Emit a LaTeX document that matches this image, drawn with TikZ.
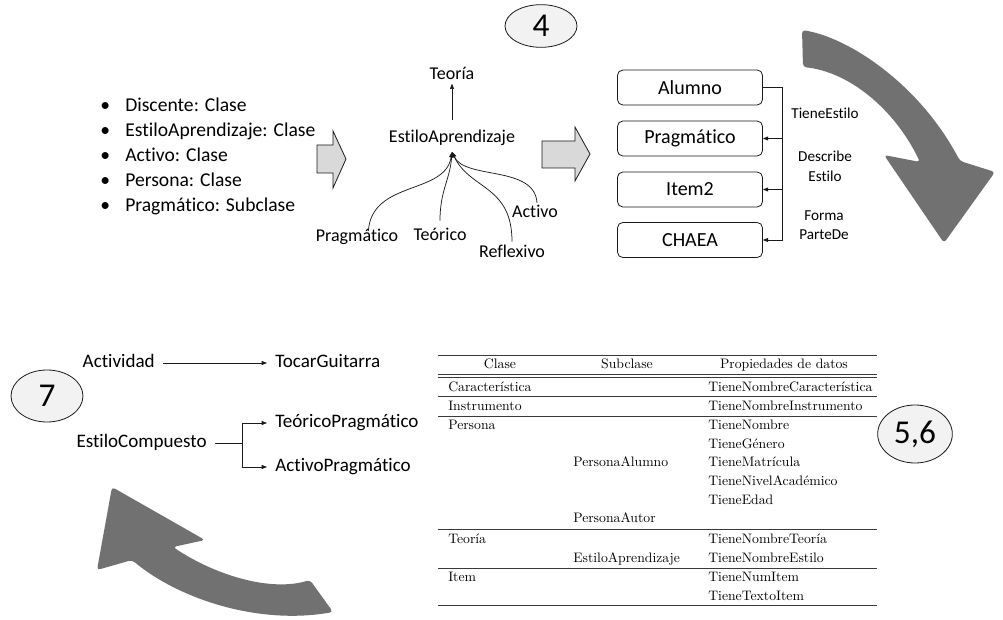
\documentclass[tikz,border=0pt]{standalone}
\usepackage{fontspec}
\newfontfamily\carl{Carlito}[Ligatures=NoCommon]
\usetikzlibrary{arrows.meta,shapes.geometric,calc}
\definecolor{arrowgray}{HTML}{717171}
\definecolor{blockgray}{HTML}{D9D9D9}
\definecolor{bubble}{HTML}{F2F2F2}
\definecolor{ink}{HTML}{1A1A1A}
\definecolor{rule}{HTML}{3A3A3A}
\begin{document}
\begin{tikzpicture}[x=0.75pt,y=-0.75pt,
  listtxt/.style={font=\carl\fontsize{14.7}{17}\selectfont,inner sep=0pt,text height=0.66em,text depth=0pt,anchor=west},
  treetxt/.style={font=\carl\fontsize{13.5}{16}\selectfont,inner sep=0pt,text height=0.66em,text depth=0pt},
  boxtxt/.style={draw=ink,line width=0.6pt,rounded corners=4pt,minimum width=108.75pt,minimum height=26.25pt,
    font=\carl\fontsize{15}{18}\selectfont,inner sep=0pt},
  reltxt/.style={font=\carl\fontsize{11.4}{14.6}\selectfont,inner sep=0pt,align=center},
  lowtxt/.style={font=\carl\fontsize{14.3}{17}\selectfont,inner sep=0pt,text height=0.66em,text depth=0pt},
  bubbletxt/.style={draw=ink,fill=bubble,line width=0.6pt,ellipse,inner sep=0pt,font=\carl\fontsize{25}{28}\selectfont},
  tabtxt/.style={font=\fontsize{10.3}{12}\selectfont,inner sep=0pt,text height=0.7em,text depth=0pt},
  conn/.style={draw=ink,line width=0.55pt},
  tip/.style={-{Triangle[length=4pt,width=3pt]}},
  blockarrow/.style={draw=ink,fill=blockgray,line width=0.6pt},
  bigarrow/.style={fill=arrowgray,rounded corners=2.5pt},
  tabrule/.style={draw=rule,line width=0.7pt}
]
\useasboundingbox (0,0) rectangle (1003,620);

% ---------- list of classes ----------
\node[listtxt] (l1) at (100,107) {\makebox[18.75pt][l]{•}Discente: Clase};
\node[listtxt] (l2) at (100,132) {\makebox[18.75pt][l]{•}EstiloAprendizaje: Clase};
\node[listtxt] (l3) at (100,157) {\makebox[18.75pt][l]{•}Activo: Clase};
\node[listtxt] (l4) at (100,182) {\makebox[18.75pt][l]{•}Persona: Clase};
\node[listtxt] (l5) at (100,207) {\makebox[18.75pt][l]{•}Pragmático: Subclase};

% ---------- block arrows ----------
\draw[blockarrow] (317,145) -- (333,145) -- (333,131) -- (346,159) -- (333,188) -- (333,173) -- (317,173) -- cycle;
\draw[blockarrow] (542,141) -- (575,141) -- (575,127) -- (590,154) -- (575,181) -- (575,168) -- (542,168) -- cycle;

% ---------- hierarchy of learning styles ----------
\node[treetxt] (teoria) at (452,75) {Teoría};
\node[treetxt] (estilo) at (452,138) {EstiloAprendizaje};
\node[treetxt] (prag) at (357,237) {Pragmático};
\node[treetxt] (teor) at (440,236) {Teórico};
\node[treetxt] (refl) at (512,253) {Reflexivo};
\node[treetxt] (act) at (535,213) {Activo};
\coordinate (join) at (452,152);
\draw[conn,tip] ([yshift=10pt]estilo.north) -- ([yshift=-3pt]teoria.south);
\draw[conn,tip] ([xshift=8.5pt,yshift=1pt]prag.north) .. controls (372,180) and (445,195) .. (join);
\draw[conn,tip] ([yshift=8pt]teor.north) .. controls (440,190) and (450,180) .. (join);
\draw[conn,tip] ([yshift=5pt]refl.north) .. controls (512,185) and (470,190) .. (join);
\draw[conn,tip] ([xshift=1.5pt,yshift=4pt]act.north) .. controls (535,165) and (465,180) .. (join);

% ---------- step 4 ----------
\node[bubbletxt,minimum width=54pt,minimum height=32pt] (b4) at (541,26) {4};

\node[boxtxt] (alumno) at (690,87.5) {Alumno};
\node[boxtxt] (pragm) at (690,138.5) {Pragmático};
\node[boxtxt] (item) at (690,189.5) {Item2};
\node[boxtxt] (chaea) at (690,240) {CHAEA};
\draw[conn,tip] (alumno.east) -- ++(19,0) coordinate (bus) |- (chaea.east);
\draw[conn,tip] (bus |- pragm.east) -- (pragm.east);
\draw[conn,tip] (bus |- item.east) -- (item.east);
\node[reltxt] (r1) at (825,113) {TieneEstilo};
\node[reltxt] (r2) at (825,166.5) {Describe\\Estilo};
\node[reltxt] (r3) at (824,225) {Forma\\ParteDe};

% ---------- curved arrows ----------
\fill[bigarrow] (802,30) .. controls (850,38) and (920,85) .. (960,161) -- (995,172) -- (944,243)
  -- (884,155) -- (920,162) .. controls (895,110) and (850,72) .. (803,67) -- cycle;
\fill[bigarrow] (333,612) .. controls (260,625) and (180,600) .. (132,560) -- (97,570) -- (112,487)
  -- (205,540) -- (173,547) .. controls (215,575) and (270,592) .. (310,580) -- cycle;

% ---------- step 7 ----------
\node[bubbletxt,minimum width=54pt,minimum height=39pt] (b7) at (47,396) {7};
\node[lowtxt,anchor=east] (activ) at (155,363) {Actividad};
\node[lowtxt,anchor=west] (toca) at (275,363) {TocarGuitarra};
\draw[conn,tip,shorten <=6pt,shorten >=6pt] (activ.east) -- (toca.west);
\node[lowtxt,anchor=east] (ecomp) at (207,443) {EstiloCompuesto};
\node[lowtxt,anchor=west] (tprag) at (275,423) {TeóricoPragmático};
\node[lowtxt,anchor=west] (aprag) at (275,467) {ActivoPragmático};
\coordinate (fork) at (242,443);
\draw[conn,shorten <=6pt] (ecomp.east) -- (fork);
\draw[conn,tip,shorten >=6pt] (fork) |- (tprag.west);
\draw[conn,tip,shorten >=6pt] (fork) |- (aprag.west);

% ---------- steps 5,6: classes and data properties ----------
\node[bubbletxt,minimum width=56pt,minimum height=43.5pt] (b56) at (915,434) {5,6};

\draw[tabrule] (438,355) -- (877,355);
\draw[tabrule] (438,374.3) -- (877,374.3);
\draw[tabrule] (438,377.6) -- (877,377.6);
\draw[tabrule] (438,396) -- (877,396);
\draw[tabrule] (438,416) -- (877,416);
\draw[tabrule] (438,529) -- (877,529);
\draw[tabrule] (438,568) -- (877,568);
\draw[tabrule] (438,605) -- (877,605);

\node[tabtxt] (h1) at (500,364) {Clase};
\node[tabtxt] (h2) at (627,364) {Subclase};
\node[tabtxt] (h3) at (784,364) {Propiedades de datos};

\node[tabtxt,anchor=west] (c1) at (448,386.7) {Característica};
\node[tabtxt,anchor=west] (p1) at (708,386.7) {TieneNombreCaracterística};
\node[tabtxt,anchor=west] (c2) at (448,406) {Instrumento};
\node[tabtxt,anchor=west] (p2) at (708,406) {TieneNombreInstrumento};
\node[tabtxt,anchor=west] (c3) at (448,425) {Persona};
\node[tabtxt,anchor=west] (p3) at (708,425) {TieneNombre};
\node[tabtxt,anchor=west] (p4) at (708,443.6) {TieneGénero};
\node[tabtxt,anchor=west] (s1) at (573,462.2) {PersonaAlumno};
\node[tabtxt,anchor=west] (p5) at (708,462.2) {TieneMatrícula};
\node[tabtxt,anchor=west] (p6) at (708,480.8) {TieneNivelAcadémico};
\node[tabtxt,anchor=west] (p7) at (708,499.4) {TieneEdad};
\node[tabtxt,anchor=west] (s2) at (573,518) {PersonaAutor};
\node[tabtxt,anchor=west] (c4) at (448,539) {Teoría};
\node[tabtxt,anchor=west] (p8) at (708,539) {TieneNombreTeoría};
\node[tabtxt,anchor=west] (s3) at (573,557.6) {EstiloAprendizaje};
\node[tabtxt,anchor=west] (p9) at (708,557.6) {TieneNombreEstilo};
\node[tabtxt,anchor=west] (c5) at (448,577) {Item};
\node[tabtxt,anchor=west] (p10) at (708,577) {TieneNumItem};
\node[tabtxt,anchor=west] (p11) at (708,595.6) {TieneTextoItem};
\end{tikzpicture}
\end{document}
